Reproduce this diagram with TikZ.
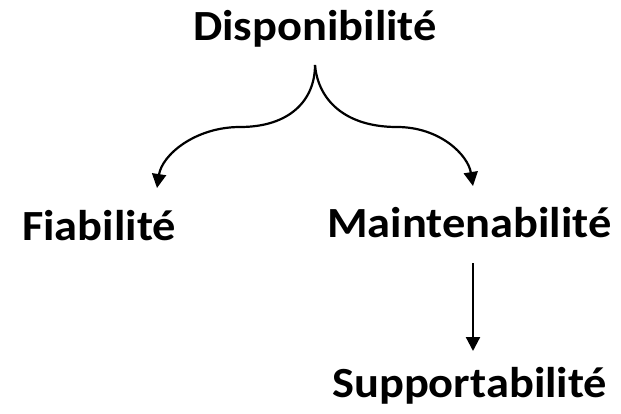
\documentclass[tikz,border=0pt]{standalone}
\usepackage{fontspec}
\setmainfont{Carlito}
\usetikzlibrary{arrows.meta}
\newcommand{\widetext}[1]{\scalebox{1.08}[1]{#1}}
\begin{document}
\begin{tikzpicture}[x=1pt,y=-1pt,
  label/.style={font=\fontsize{43}{48}\selectfont\bfseries, inner sep=0pt, anchor=base west},
  link/.style={line width=2.2pt, -{Triangle[length=14pt,width=14pt]}}]
\useasboundingbox (0,0) rectangle (621,413);
\node[label] (dispo) at (193,40) {\widetext{Disponibilité}};
\node[label] (fiab) at (22,240) {\widetext{Fiabilité}};
\node[label] (maint) at (327,237) {\widetext{Maintenabilité}};
\node[label] (supp) at (332,397) {\widetext{Supportabilité}};
% brace-shaped split below the top label
\coordinate (top) at (315,65);
\coordinate (lm) at (240,127);
\coordinate (rm) at (397,127);
\coordinate (lt) at (157,188);
\coordinate (rt) at (473,186);
\draw[link] (top) .. controls (315,100) and (290,127) .. (lm)
  .. controls (195,127) and (162,155) .. (lt);
\draw[link] (top) .. controls (318,100) and (345,127) .. (rm)
  .. controls (440,127) and (468,155) .. (rt);
% vertical arrow
\coordinate (vs) at (473,263);
\coordinate (ve) at (473,351);
\draw[link] (vs) -- (ve);
\end{tikzpicture}
\end{document}
